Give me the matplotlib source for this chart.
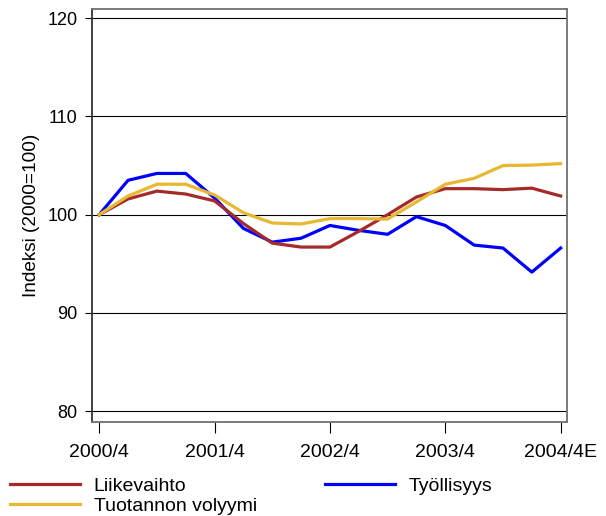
import matplotlib
matplotlib.use('Agg')
import matplotlib.pyplot as plt

plt.rcParams['font.family'] = ['Liberation Sans', 'DejaVu Sans']

# quarterly index values, 2000/4 .. 2004/4E
quarters = ['2000/4', '2001/1', '2001/2', '2001/3', '2001/4', '2002/1', '2002/2', '2002/3',
            '2002/4', '2003/1', '2003/2', '2003/3', '2003/4', '2004/1', '2004/2', '2004/3', '2004/4E']
liikevaihto = [100, 101.6, 102.4, 102.1, 101.4, 99.1, 97.1, 96.7, 96.7, 98.3, 100.0,
               101.8, 102.65, 102.65, 102.55, 102.7, 101.9]
tuotannon_volyymi = [100, 101.9, 103.1, 103.1, 102.0, 100.2, 99.15, 99.05, 99.6, 99.6, 99.55,
                     101.3, 103.1, 103.7, 105.0, 105.05, 105.2]
tyollisyys = [100, 103.5, 104.2, 104.2, 101.7, 98.6, 97.2, 97.6, 98.9, 98.4, 98.0,
              99.8, 98.9, 96.9, 96.6, 94.15, 96.6]
yticks = [80, 90, 100, 110, 120]

fig = plt.figure(figsize=(6.06, 5.16), dpi=100)
ax = fig.add_axes([92/606, 1 - 422/516, 475/606, 413/516])

x = list(range(len(quarters)))
l3, = ax.plot(x, tyollisyys, color='#0000ff', lw=2.3, label='Työllisyys')
l1, = ax.plot(x, liikevaihto, color='#a52a2a', lw=2.3, label='Liikevaihto')
l2, = ax.plot(x, tuotannon_volyymi, color='#e8b830', lw=2.3, label='Tuotannon volyymi')

for v in yticks:
    ax.axhline(v, color='black', lw=0.8, zorder=0)

ax.set_xlim(-0.25, 16.22)
ax.set_ylim(78.88, 120.95)
ax.set_yticks(yticks)
ax.set_xticks(x[::4])
ax.set_xticklabels(quarters[::4])
ax.tick_params(axis='y', direction='out', length=5, width=0.8, pad=5.5, labelsize=13)
ax.tick_params(axis='x', direction='out', length=8, width=0.8, pad=8, labelsize=14)
for s in ax.spines.values():
    s.set_color('#707070')
    s.set_linewidth(1.3)
ax.spines['left'].set_color('#333333')
ax.set_ylabel('Indeksi (2000=100)', fontsize=13.7, labelpad=5)

fig.legend(handles=[l1, l2, l3], loc='upper left', bbox_to_anchor=(10/606, 0.075),
           ncol=2, frameon=False, fontsize=14, handlelength=3.6, handletextpad=0.7,
           labelspacing=0.12, columnspacing=3.5, borderaxespad=0.0, borderpad=0.0)

fig.savefig('out.png', dpi=100)
